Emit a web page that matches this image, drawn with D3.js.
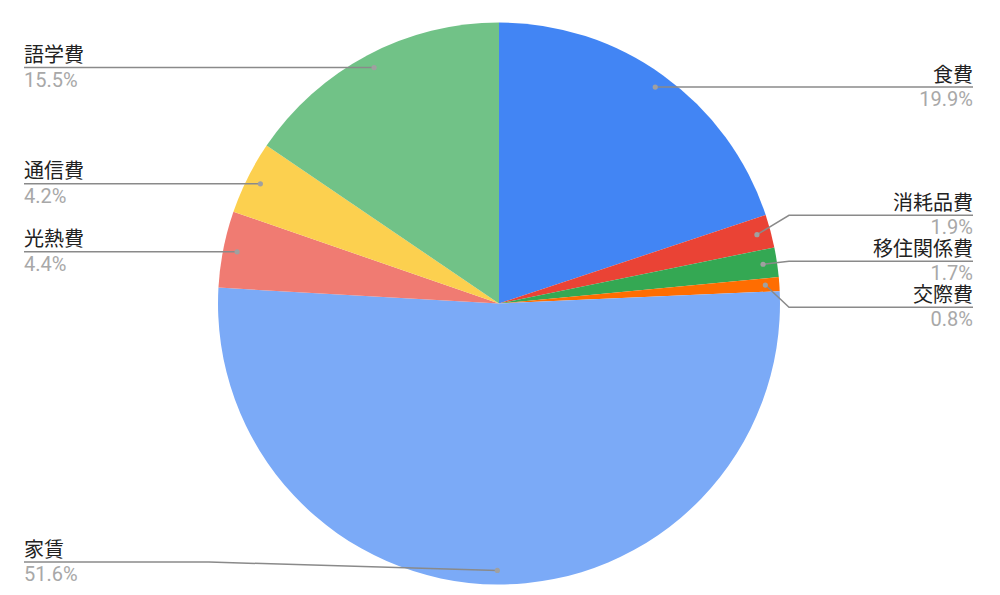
<!DOCTYPE html>
<html>
<head>
<meta charset="utf-8">
<script src="https://cdn.jsdelivr.net/npm/d3@7"></script>
<style>
  body { margin: 0; background: #fff; }
  svg { display: block; font-family: Roboto, "Noto Sans CJK JP", sans-serif; }
</style>
</head>
<body>
<svg id="chart" width="1000" height="595"></svg>
<script>
// data (clockwise from 12 o'clock)
const categories = ["食費", "消耗品費", "移住関係費", "交際費", "家賃", "光熱費", "通信費", "語学費"];
const percents = [19.9, 1.9, 1.7, 0.8, 51.6, 4.4, 4.2, 15.5];
const colors = ["#4285F4", "#EA4335", "#34A853", "#FF6D01", "#7BAAF7", "#F07B72", "#FCD04F", "#71C287"];

const svg = d3.select("#chart");
const width = +svg.attr("width");
const height = +svg.attr("height");

const cx = 499, cy = 303.5, radius = 281;
const labelLeft = 24, labelRight = 973;
const gap = 46;          // min vertical spacing between label lines
const maxLabelY = height - 33;
const minLabelY = 30;

const pie = d3.pie().sort(null).value(d => d);
const arcs = pie(percents);

const arc = d3.arc().innerRadius(0).outerRadius(radius);
const dotArc = d3.arc().innerRadius(radius * 0.95).outerRadius(radius * 0.95);

const g = svg.append("g").attr("transform", `translate(${cx},${cy})`);

g.selectAll("path.slice")
  .data(arcs)
  .join("path")
  .attr("class", "slice")
  .attr("d", arc)
  .attr("fill", (d, i) => colors[i]);

// label layout
let labels = arcs.map((d, i) => {
  const c = dotArc.centroid(d);
  const mid = (d.startAngle + d.endAngle) / 2;
  return { i, dx: c[0] + cx, dy: c[1] + cy, right: mid < Math.PI, y: c[1] + cy };
});

function resolve(list) {
  list.sort((a, b) => a.dy - b.dy);
  // cluster-based relaxation: overlapping groups are centred on their mean
  let groups = list.map(l => ({ items: [l], y: Math.min(maxLabelY, Math.max(minLabelY, l.dy)) }));
  let changed = true;
  while (changed) {
    changed = false;
    for (let k = 0; k < groups.length - 1; k++) {
      const a = groups[k], b = groups[k + 1];
      const aEnd = a.y + (a.items.length - 1) * gap;
      if (b.y - aEnd < gap) {
        const items = a.items.concat(b.items);
        const meanDot = d3.mean(items, l => Math.min(maxLabelY, l.dy));
        let start = meanDot - (items.length - 1) * gap / 2;
        start = Math.max(minLabelY, Math.min(start, maxLabelY - (items.length - 1) * gap));
        groups.splice(k, 2, { items, y: start });
        changed = true;
        break;
      }
    }
  }
  groups.forEach(gr => gr.items.forEach((l, j) => { l.y = gr.y + j * gap; }));
}
resolve(labels.filter(l => l.right));
resolve(labels.filter(l => !l.right));

const lg = svg.append("g");

labels.forEach(l => {
  const edge = l.right ? labelRight : labelLeft;
  let pts;
  if (Math.abs(l.y - l.dy) < 1) {
    pts = [[l.dx, l.y], [edge, l.y]];
  } else {
    const bendX = l.right ? cx + radius + 9 : cx - radius - 9;
    pts = [[l.dx, l.dy], [bendX, l.y], [edge, l.y]];
  }
  lg.append("path")
    .attr("d", d3.line()(pts))
    .attr("fill", "none")
    .attr("stroke", "#8a8a8a")
    .attr("stroke-width", 1.5);
  lg.append("circle")
    .attr("cx", l.dx).attr("cy", l.dy).attr("r", 2.6)
    .attr("fill", "#a0a0a0");
  lg.append("text")
    .attr("x", edge).attr("y", l.y - 5.5)
    .attr("text-anchor", l.right ? "end" : "start")
    .attr("font-size", 20)
    .attr("fill", "#222")
    .text(categories[l.i]);
  lg.append("text")
    .attr("x", edge).attr("y", l.y + 19)
    .attr("text-anchor", l.right ? "end" : "start")
    .attr("font-size", 20)
    .attr("fill", "#a8a8a8")
    .text(d3.format(".1f")(percents[l.i]) + "%");
});
</script>
</body>
</html>
